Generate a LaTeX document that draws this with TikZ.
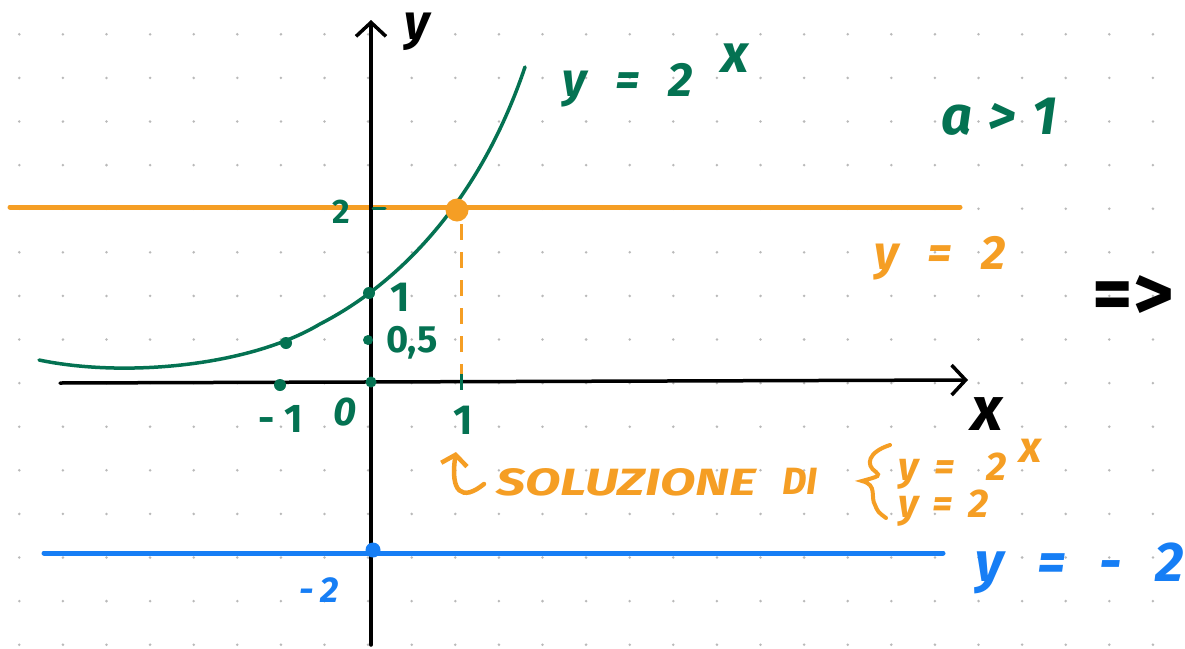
\documentclass[tikz,border=0pt]{standalone}
\usepackage{fontspec}
\usepackage{graphicx}
\setmainfont{Fira Sans}
\usetikzlibrary{arrows.meta}
\definecolor{gr}{RGB}{4,114,82}
\definecolor{orn}{RGB}{245,158,36}
\definecolor{bl}{RGB}{22,126,245}
\newcommand{\gap}{\hspace{0.6em}}
\begin{document}
\begin{tikzpicture}[x=1pt,y=-1pt,
  axisline/.style={black,line width=3.5pt,line cap=round,-{Straight Barb[length=14pt,width=30pt,line width=3.5pt]}},
  gdot/.style={circle,fill=gr,inner sep=0pt,minimum size=12pt},
  lbl/.style={inner sep=0pt,anchor=center},
  gtxt/.style={lbl,text=gr},
  otxt/.style={lbl,text=orn},
  btxt/.style={lbl,text=bl},
  hline/.style={line width=5pt,line cap=round}]
\useasboundingbox (0,0) rectangle (1185,648);
\fill[white] (0,0) rectangle (1185,648);
% dot grid
\foreach \i in {0,...,26}{
  \foreach \j in {0,...,14}{
    \fill[gray!55] (19.3+43.6*\i,34.3+43.6*\j) circle (1.4pt);
  }
}
% horizontal lines
\coordinate (oL) at (10,207);
\coordinate (oR) at (960,207);
\draw[orn,hline] (oL) -- (oR);
\coordinate (bL) at (44,553);
\coordinate (bR) at (943,553);
\draw[bl,hline] (bL) -- (bR);
% axes
\coordinate (xs) at (60,383);
\coordinate (xe) at (968,380);
\draw[axisline] (xs) -- (xe);
\coordinate (ys) at (371,645);
\coordinate (ye) at (371,20);
\draw[axisline] (ys) -- (ye);
\node[lbl,font=\fontsize{50}{50}\selectfont\itshape\bfseries] (ylab) at (417,32) {y};
\node[lbl,font=\fontsize{62}{62}\selectfont\itshape\bfseries] (xlab) at (987,414) {x};
% dashed line from intersection
\coordinate (dTop) at (461,224);
\coordinate (dBot) at (461,380);
\draw[orn,line width=3pt,dash pattern=on 16pt off 12pt] (dTop) -- (dBot);
\coordinate (tk1) at (461,374);
\coordinate (tk2) at (461,390);
\draw[gr,line width=3pt] (tk1) -- (tk2);
\coordinate (tk3) at (373,208);
\coordinate (tk4) at (385,208);
\draw[gr,line width=3pt,line cap=round] (tk3) -- (tk4);
% curve y = 2^x
\coordinate (cS) at (39,360);
\coordinate (cM) at (320,324);
\coordinate (cE) at (525,67);
\draw[gr,line width=3.5pt,line cap=round] (cS) .. controls (125,378) and (250,366) .. (cM) .. controls (400,283) and (480,200) .. (cE);
% points
\node[gdot] (p1) at (369,293) {};
\node[gdot,minimum size=10pt] (p05) at (368,340) {};
\node[gdot] (pm1c) at (286,343) {};
\node[gdot] (pm1) at (280,385) {};
\node[gdot,minimum size=11pt] (p0) at (371,382) {};
\node[circle,fill=orn,inner sep=0pt,minimum width=23pt,minimum height=21pt] (sol) at (457,210) {};
\node[circle,fill=bl,inner sep=0pt,minimum width=10pt,minimum height=15pt] (pb) at (373,550) {};
% green labels
\node[gtxt,font=\fontsize{34}{34}\selectfont\bfseries] (l2) at (341,212) {2};
\node[gtxt,font=\fontsize{42}{42}\selectfont\bfseries] (l1) at (400,297) {1};
\node[gtxt,font=\fontsize{38}{38}\selectfont\bfseries] (l05) at (412,343) {0,5};
\node[gtxt,font=\fontsize{40}{40}\selectfont\bfseries] (lm1) at (281,419) {-\hspace{0.25em}1};
\node[gtxt,font=\fontsize{40}{40}\selectfont\bfseries\itshape] (l0) at (345,412) {0};
\node[gtxt,font=\fontsize{42}{42}\selectfont\bfseries] (lx1) at (463,420) {1};
\node[gtxt,font=\fontsize{48}{48}\selectfont\bfseries\itshape,anchor=west] (feq) at (562,75) {y\gap=\gap2\raisebox{0.5em}{\hspace{0.6em}\fontsize{54}{54}\selectfont x}};
\node[gtxt,font=\fontsize{54}{54}\selectfont\bfseries\itshape] (acond) at (999,117) {a\hspace{0.3em}>\hspace{0.3em}1};
% orange labels
\node[otxt,font=\fontsize{48}{48}\selectfont\bfseries\itshape] (oeq) at (940,258) {y\gap=\gap2};
\coordinate (tS) at (484,484);
\coordinate (tE) at (456,452);
\draw[orn,line width=4.5pt,line cap=round,-{Straight Barb[length=10pt,width=26pt,line width=4.5pt]}] (tS) .. controls (462,502) and (450,492) .. (tE);
\node[otxt,font=\fontsize{38}{38}\selectfont\bfseries\itshape,anchor=west] (sol1) at (496,482) {\scalebox{1.36}[1]{SOLUZIONE}};
\node[otxt,font=\fontsize{38}{38}\selectfont\bfseries\itshape,anchor=west] (sol2) at (782,481) {DI};
\coordinate (brT) at (890,445);
\coordinate (brM) at (862,481);
\coordinate (brB) at (886,518);
\draw[orn,line width=4pt,line cap=round] (brT) .. controls (868,452) and (865,465) .. (876,472) .. controls (880,476) .. (brM) .. controls (878,485) and (870,497) .. (875,505) .. controls (878,512) .. (brB);
\node[otxt,font=\fontsize{40}{40}\selectfont\bfseries\itshape,anchor=west] (s1) at (898,464) {y\hspace{0.4em}=\hspace{0.8em}2\raisebox{0.45em}{\hspace{0.3em}\fontsize{44}{44}\selectfont x}};
\node[otxt,font=\fontsize{40}{40}\selectfont\bfseries\itshape,anchor=west] (s2) at (898,508) {y\hspace{0.35em}=\hspace{0.4em}2};
% blue labels
\node[btxt,font=\fontsize{36}{36}\selectfont\bfseries\itshape] (lm2) at (319,590) {-\hspace{0.2em}2};
\node[btxt,font=\fontsize{56}{56}\selectfont\bfseries\itshape] (beq) at (1080,568) {y\gap=\gap-\gap2};
% implies
\node[lbl,font=\fontsize{78}{78}\selectfont\bfseries] (impl) at (1133,298) {=>};
\end{tikzpicture}
\end{document}
